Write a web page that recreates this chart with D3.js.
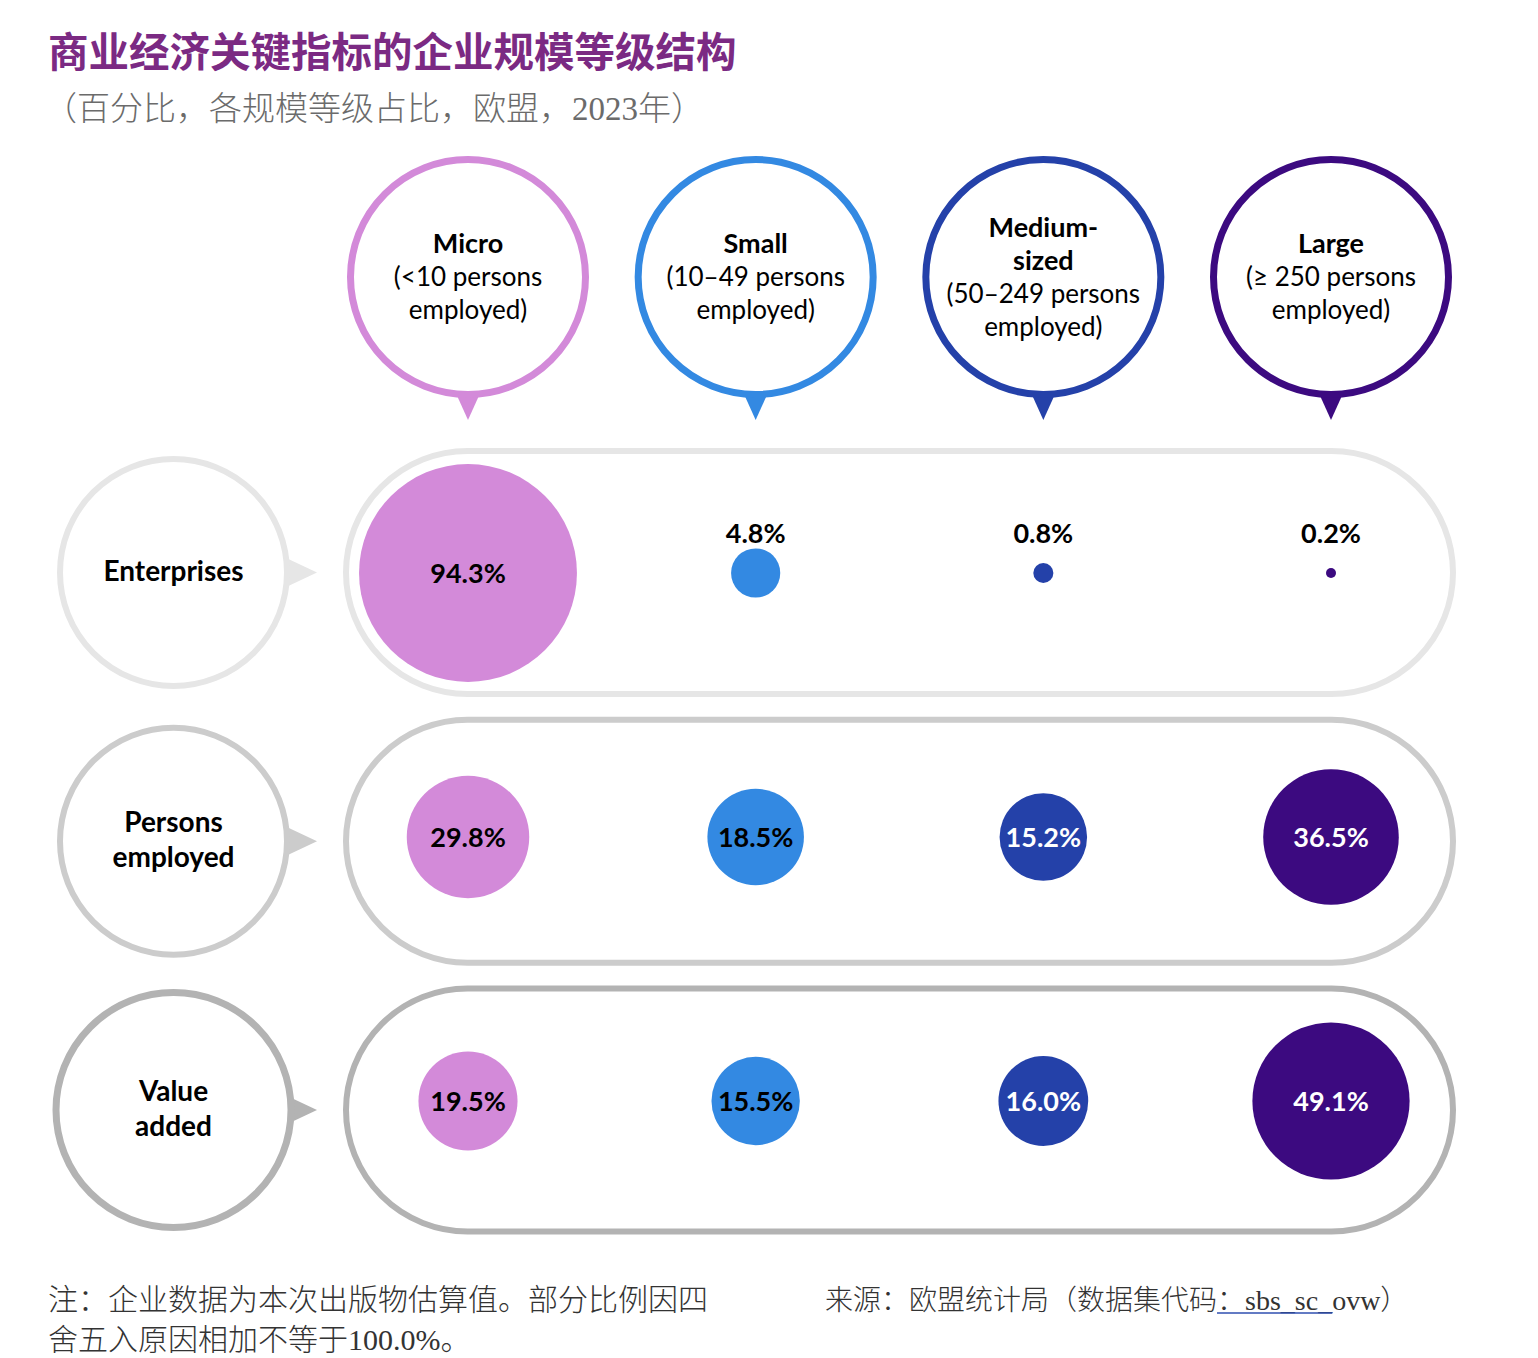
<!DOCTYPE html>
<html><head><meta charset="utf-8">
<script src="https://cdn.jsdelivr.net/npm/d3@7"></script>
<style>
html,body{margin:0;padding:0;background:#fff;}
svg{display:block;}
</style></head>
<body>
<svg id="chart" width="1538" height="1358"></svg>
<script>
// ---- data ----
const sizeClasses = ["Micro", "Small", "Medium-sized", "Large"];
const sizeTitles = [["Micro"], ["Small"], ["Medium-", "sized"], ["Large"]];
const sizeRanges = [["(<10 persons", "employed)"], ["(10–49 persons", "employed)"], ["(50–249 persons", "employed)"], ["(≥ 250 persons", "employed)"]];
const indicators = ["Enterprises", "Persons employed", "Value added"];
const indicatorLines = [["Enterprises"], ["Persons", "employed"], ["Value", "added"]];
const enterprises = [94.3, 4.8, 0.8, 0.2];
const personsEmployed = [29.8, 18.5, 15.2, 36.5];
const valueAdded = [19.5, 15.5, 16.0, 49.1];
const seriesValues = [enterprises, personsEmployed, valueAdded];
const title = "商业经济关键指标的企业规模等级结构";
const subtitle = "（百分比，各规模等级占比，欧盟，2023年）";
const noteLines = ["注：企业数据为本次出版物估算值。部分比例因四", "舍五入原因相加不等于100.0%。"];
const sourcePrefix = "来源：欧盟统计局（数据集代码";
const sourceLink = "：sbs_sc_";
const sourceSuffix = "ovw）";

// ---- styles ----
const classColors = ["#d38ad9", "#3389e2", "#2441a9", "#3c0a80"];
const classTextColors = ["#000", "#000", "#fff", "#fff"];
const rowStroke = ["#e6e6e6", "#cccccc", "#b3b3b3"];
const latin = "Lato, 'Noto Sans', sans-serif";
const cjk = "'Noto Sans CJK SC', sans-serif";
const cjkSerifLatin = "'Liberation Serif', 'Noto Sans CJK SC', serif";

const svg = d3.select("#chart");

// ---- scales ----
const x = d3.scalePoint().domain(sizeClasses).range([468, 1331]);
const yMark = d3.scalePoint().domain(indicators).range([573, 1101]);
const yFrame = d3.scalePoint().domain(indicators).range([572.5, 1110]);
const r = d3.scaleSqrt().domain([0, 100]).range([0, 112.2]);
const color = d3.scaleOrdinal().domain(sizeClasses).range(classColors);

// ---- title ----
svg.append("text").attr("x", 48).attr("y", 67)
  .attr("font-family", cjk).attr("font-weight", 700).attr("font-size", 40.5)
  .attr("fill", "#7b2a83").text(title);
svg.append("text").attr("x", 44).attr("y", 120)
  .attr("font-family", cjkSerifLatin).attr("font-weight", 300).attr("font-size", 33)
  .attr("fill", "#6b6b6b").text(subtitle);

// ---- header bubbles ----
const head = svg.append("g").selectAll("g").data(sizeClasses).join("g")
  .attr("transform", d => `translate(${x(d)},277)`);
head.append("path")
  .attr("d", "M-14,112 L14,112 L0,143 Z")
  .attr("fill", d => color(d));
head.append("circle").attr("r", 117.5)
  .attr("fill", "#fff").attr("stroke", d => color(d)).attr("stroke-width", 7);
head.each(function (d, i) {
  const g = d3.select(this);
  const lines = sizeTitles[i].map(t => ({t, bold: true})).concat(sizeRanges[i].map(t => ({t, bold: false})));
  const lh = 33;
  const first = 9 - (lines.length - 1) * lh / 2;
  g.selectAll("text").data(lines).join("text")
    .attr("x", 0).attr("y", (l, j) => first + j * lh)
    .attr("text-anchor", "middle")
    .attr("font-family", latin)
    .attr("font-weight", l => l.bold ? 700 : 400)
    .attr("font-size", l => l.bold ? 27 : 26)
    .attr("fill", "#000")
    .text(l => l.t);
});

// ---- rows ----
const rows = svg.append("g").selectAll("g").data(indicators).join("g");
// row frames (pills)
rows.append("rect")
  .attr("x", 346).attr("width", 1107)
  .attr("y", d => yFrame(d) - 121.5).attr("height", 243)
  .attr("rx", 121.5).attr("ry", 121.5)
  .attr("fill", "#fff")
  .attr("stroke", (d, i) => rowStroke[i]).attr("stroke-width", 6);
// left label circles
rows.append("path")
  .attr("d", d => `M283,${yFrame(d) - 16} L317,${yFrame(d)} L283,${yFrame(d) + 16} Z`)
  .attr("fill", (d, i) => rowStroke[i]);
rows.append("circle")
  .attr("cx", 173.5).attr("cy", d => yFrame(d))
  .attr("r", (d, i) => i === 2 ? 117.5 : 113.5)
  .attr("fill", "#fff")
  .attr("stroke", (d, i) => rowStroke[i]).attr("stroke-width", (d, i) => i === 2 ? 7 : 6);
rows.each(function (d, i) {
  const lines = indicatorLines[i];
  const lh = 35;
  const first = yFrame(d) + 8 - (lines.length - 1) * lh / 2;
  d3.select(this).selectAll("text.ind").data(lines).join("text").attr("class", "ind")
    .attr("x", 173.5).attr("y", (l, j) => first + j * lh)
    .attr("text-anchor", "middle")
    .attr("font-family", latin).attr("font-weight", 700).attr("font-size", 28)
    .attr("fill", "#000").text(l => l);
});

// value bubbles
rows.each(function (ind, i) {
  const vals = seriesValues[i].map((v, j) => ({v, cls: sizeClasses[j], j}));
  const g = d3.select(this);
  g.selectAll("circle.val").data(vals).join("circle").attr("class", "val")
    .attr("cx", d => x(d.cls)).attr("cy", yMark(ind))
    .attr("r", d => r(d.v)).attr("fill", d => color(d.cls));
  g.selectAll("text.val").data(vals).join("text").attr("class", "val")
    .attr("x", d => x(d.cls))
    .attr("y", d => r(d.v) < 30 ? yMark(ind) - 30 : yMark(ind) + 10)
    .attr("text-anchor", "middle")
    .attr("font-family", latin).attr("font-weight", 700).attr("font-size", 27)
    .attr("fill", d => r(d.v) < 30 ? "#000" : classTextColors[d.j])
    .text(d => d.v.toFixed(1) + "%");
});

// ---- footer ----
svg.append("g").selectAll("text").data(noteLines).join("text")
  .attr("x", 48).attr("y", (d, i) => 1310 + i * 40)
  .attr("font-family", cjkSerifLatin).attr("font-weight", 300).attr("font-size", 30)
  .attr("fill", "#333").text(d => d);
const src = svg.append("text").attr("x", 825).attr("y", 1310)
  .attr("font-family", cjkSerifLatin).attr("font-weight", 300).attr("font-size", 28).attr("fill", "#333");
src.append("tspan").text(sourcePrefix);
const link = src.append("tspan").text(sourceLink);
src.append("tspan").text(sourceSuffix);
// underline for link
const bb = link.node().getComputedTextLength();
const startX = 825 + src.node().getSubStringLength(0, sourcePrefix.length);
svg.append("line").attr("x1", startX).attr("x2", startX + bb)
  .attr("y1", 1313).attr("y2", 1313).attr("stroke", "#2f4fb0").attr("stroke-width", 1.5);
</script>
</body></html>
